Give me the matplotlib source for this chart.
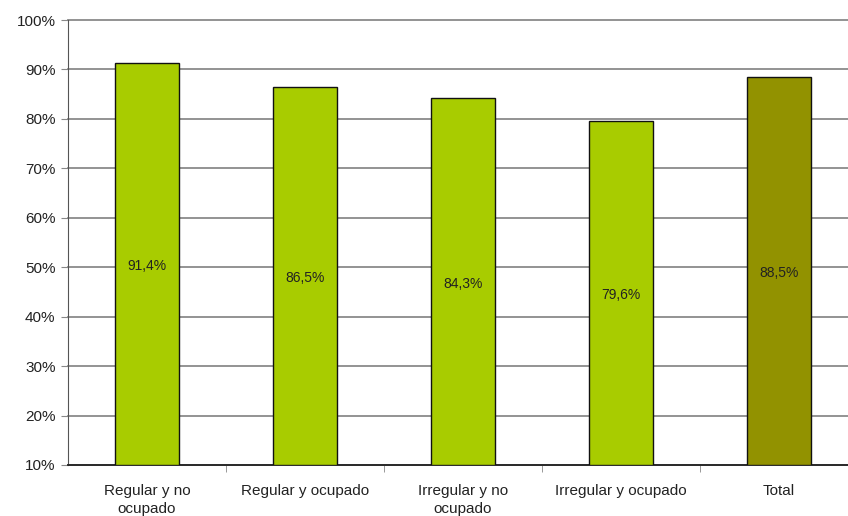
import matplotlib
matplotlib.use("Agg")
import matplotlib.pyplot as plt
from matplotlib.ticker import FixedLocator

# Donnees
categorias = ["Regular y no\nocupado", "Regular y ocupado", "Irregular y no\nocupado",
              "Irregular y ocupado", "Total"]
valores = [91.4, 86.5, 84.3, 79.6, 88.5]
etiquetas = ["91,4%", "86,5%", "84,3%", "79,6%", "88,5%"]
colores = ["#A8CC00", "#A8CC00", "#A8CC00", "#A8CC00", "#929200"]
y_ticks = [10, 20, 30, 40, 50, 60, 70, 80, 90, 100]

plt.rcParams["font.family"] = ["Liberation Sans", "DejaVu Sans"]

fig = plt.figure(figsize=(8.48, 5.16), dpi=100)
ax = fig.add_axes([68 / 848, 51 / 516, 790 / 848, 445 / 516])

base = 10
x = range(len(categorias))
alturas = [v - base for v in valores]
ax.bar(x, alturas, bottom=base, width=0.405, color=colores,
       edgecolor="#111111", linewidth=1.0, zorder=3)

for xi, v, lab in zip(x, valores, etiquetas):
    ax.text(xi, (base + v) / 2 - 0.5, lab, ha="center", va="center", fontsize=10,
            color="#222222", zorder=4)

ax.set_xlim(-0.5, len(categorias) - 0.5)
ax.set_ylim(10, 100)
ax.set_yticks(y_ticks)
ax.set_yticklabels([f"{t}%" for t in y_ticks], fontsize=11, color="#222222")
ax.yaxis.grid(True, color="#8a8a8a", linewidth=1.3, zorder=0)
for linea in ax.get_ygridlines():
    linea.set_clip_on(False)

# Etiquetas en el centro, marcas entre categorias
ax.set_xticks(list(x))
ax.set_xticklabels(categorias, fontsize=11, color="#222222", linespacing=1.3)
ax.tick_params(axis="x", which="major", length=0, pad=14)
ax.xaxis.set_minor_locator(FixedLocator([i + 0.5 for i in range(len(categorias))]))
ax.tick_params(axis="x", which="minor", length=5, direction="out", color="#888888")
ax.tick_params(axis="y", length=5, direction="out", color="#888888", pad=4)

for lado in ["top", "right"]:
    ax.spines[lado].set_visible(False)
ax.spines["left"].set_color("#555555")
ax.spines["bottom"].set_color("#222222")
ax.spines["bottom"].set_linewidth(1.3)

plt.savefig("out.png", dpi=100)
